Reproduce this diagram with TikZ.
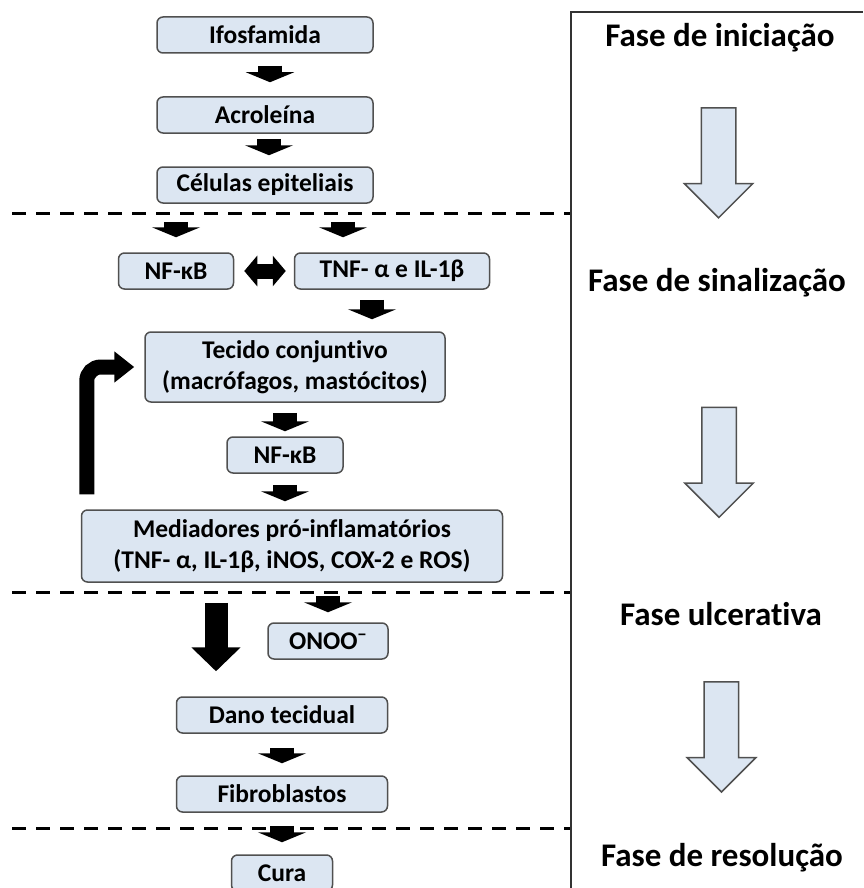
\documentclass[tikz,border=0pt]{standalone}
\usepackage{fontspec}
\setmainfont{Carlito}[Ligatures=NoCommon]
\usetikzlibrary{arrows.meta,shapes.arrows}
\definecolor{boxblue}{HTML}{DCE6F2}
\definecolor{boxline}{HTML}{505050}

\begin{document}
\begin{tikzpicture}[x=1pt,y=-1pt]
	\tikzstyle{box}=[draw=boxline,line width=1.5pt,fill=boxblue,rounded corners=6pt,minimum height=36pt,align=center,inner sep=2pt,font=\fontsize{25.5}{31}\selectfont\bfseries]
	\tikzstyle{blk}=[line width=24pt,-{Triangle[width=48pt,length=10pt]}]
	\tikzstyle{sep}=[line width=3pt,dash pattern=on 14pt off 10pt]
	\tikzstyle{phasetext}=[font=\fontsize{33}{38}\selectfont\bfseries]
	\tikzstyle{phasearrow}=[single arrow,draw=boxline,line width=1.5pt,fill=boxblue,shape border rotate=270,minimum height=110pt,single arrow head extend=17pt,inner sep=16.5pt]
	\useasboundingbox (0,0) rectangle (863,888);
	% caixas
	\node[box,minimum width=216pt] (ifo) at (265,35) {Ifosfamida};
	\node[box,minimum width=216pt] (acro) at (265,115) {Acroleína};
	\node[box,minimum width=216pt] (cel) at (265,185) {Células epiteliais};
	\node[box,minimum width=115pt] (nfa) at (176,271) {NF-κB};
	\node[box,minimum width=195pt] (tnf) at (392,271) {TNF- α e IL-1β};
	\node[box,minimum width=300pt,minimum height=70pt] (tec) at (295,367) {Tecido conjuntivo\\(macrófagos, mastócitos)};
	\node[box,minimum width=116pt] (nfb) at (285,455) {NF-κB};
	\node[box,minimum width=421pt,minimum height=72pt] (med) at (292,546) {Mediadores pró-inflamatórios\\(TNF- α, IL-1β, iNOS, COX-2 e ROS)};
	\node[box,minimum width=120pt] (ono) at (328,641) {ONOO\textsuperscript{−}};
	\node[box,minimum width=211pt] (dano) at (282,715) {Dano tecidual};
	\node[box,minimum width=211pt] (fib) at (282,794) {Fibroblastos};
	\node[box,minimum width=101pt] (cura) at (282,873) {Cura};
	\coordinate (dtop) at ([xshift=-66pt]dano.north);
	% setas
	\draw[blk,shorten <=12pt,shorten >=14pt] ([xshift=5pt]ifo.south) -- ([xshift=5pt]acro.north);
	\draw[blk,shorten <=5pt,shorten >=11pt] ([xshift=4pt]acro.south) -- ([xshift=4pt]cel.north);
	\draw[blk,shorten <=18pt,shorten >=15pt] (cel.south -| nfa.north) -- (nfa.north);
	\draw[blk,shorten <=18pt,shorten >=15pt] ([xshift=78pt]cel.south) -- ([xshift=-49pt]tnf.north);
	\draw[line width=15pt,{Triangle[width=30pt,length=13pt]}-{Triangle[width=30pt,length=13pt]},shorten <=10pt,shorten >=8pt] (nfa.east) -- (tnf.west);
	\draw[blk,shorten <=10pt,shorten >=12pt] ([xshift=-20pt]tnf.south) -- ([xshift=77pt]tec.north);
	\draw[blk,shorten <=10pt,shorten >=5pt] (tec.south -| nfb.north) -- (nfb.north);
	\draw[blk,shorten <=11pt,shorten >=8pt] (nfb.south) -- (nfb.south |- med.north);
	\draw[line width=15pt,-{Triangle[width=30pt,length=20pt]},rounded corners=14pt,shorten <=15pt,shorten >=10pt] ([xshift=6pt]med.north west) |- (tec.west);
	\draw[blk,shorten <=13pt,shorten >=10pt] (med.south -| ono.north) -- (ono.north);
	\draw[line width=23pt,-{Triangle[width=48pt,length=24pt]},shorten <=20pt,shorten >=25pt] (med.south -| dtop) -- (dtop);
	\draw[blk,shorten <=14pt,shorten >=12pt] (dano.south) -- (fib.north);
	\draw[blk,shorten <=13pt,shorten >=12pt] (fib.south) -- (cura.north);
	% linhas tracejadas
	\draw[sep] (12,213) -- (571,213);
	\draw[sep] (12,592) -- (571,592);
	\draw[sep] (12,828) -- (571,828);
	% fases
	\draw[line width=2pt,draw=black!80] (571,888) -- (571,12) -- (863,12);
	\node[phasetext] (f1) at (720,38) {Fase de iniciação};
	\node[phasetext] (f2) at (717,283) {Fase de sinalização};
	\node[phasetext] (f3) at (721,614) {Fase ulcerativa};
	\node[phasetext] (f4) at (722,858) {Fase de resolução};
	\path (f1) -- node[phasearrow,pos=0.47] {} (f2);
	\path (f2) -- node[phasearrow,pos=0.513] {} (f3);
	\path (f3) -- node[phasearrow,pos=0.47] {} (f4);
\end{tikzpicture}
\end{document}
